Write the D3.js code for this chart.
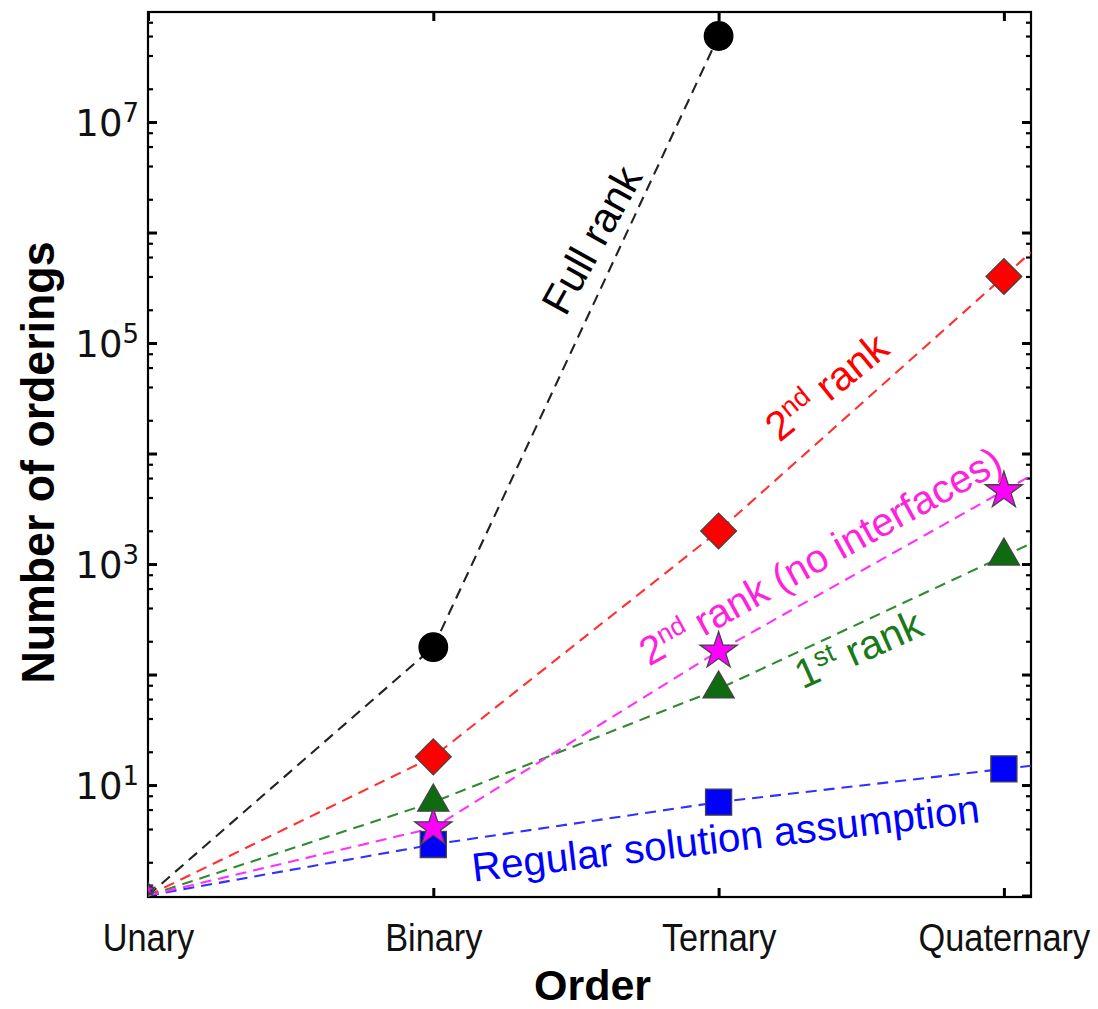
<!DOCTYPE html>
<html>
<head>
<meta charset="utf-8">
<script src="https://cdn.jsdelivr.net/npm/d3@7"></script>
<style>
  body { margin: 0; background: #fff; }
  svg { display: block; }
</style>
</head>
<body>
<svg id="chart" width="1098" height="1009"></svg>
<script>
// categories along the x axis
const orders = ["Unary", "Binary", "Ternary", "Quaternary"];

// number of orderings (null = no point)
const fullRank      = [1, 177, 6.0e7, null];
const secondRank    = [1, 18, 1990, 4.0e5];
const secondRankNoI = [1, 4.1, 163, 4600];
const firstRank     = [1, 7, 74, 1180];
const regularSol    = [1, 2.9, 7, 14];

const yTickPowers = [1, 3, 5, 7];

const series = [
  { name: "full",  values: fullRank,      line: "#222", fill: "#000",    shape: "circle",   extend: false },
  { name: "2nd",   values: secondRank,    line: "#ff3030", fill: "#ff0000", shape: "diamond", extend: true },
  { name: "1st",   values: firstRank,     line: "#2e8b2e", fill: "#0f6b0f", shape: "triangle", extend: true },
  { name: "reg",   values: regularSol,    line: "#3030ff", fill: "#0000ff", shape: "square",  extend: true },
  { name: "2ndNI", values: secondRankNoI, line: "#ff30ff", fill: "#ff00ff", shape: "star",    extend: true }
];

// rotated labels: baseline middle in data units, angle in degrees
const labels = [
  { x: 1.60, y: 7.4e5, angle: -61,  size: 42, color: "#000", parts: [["Full rank"]] },
  { x: 2.41, y: 3.2e4, angle: -39,  size: 41, color: "#ff0000", parts: [["2"], ["nd", true], [" rank"]] },
  { x: 2.38, y: 920,   angle: -29,  size: 40, color: "#ff22dd", parts: [["2"], ["nd", true], [" rank (no interfaces)"]] },
  { x: 2.51, y: 130,   angle: -24,  size: 41, color: "#1a7a1a", parts: [["1"], ["st", true], [" rank"]] },
  { x: 2.03, y: 2.48,  angle: -6.7, size: 40.5, color: "#0000ff", parts: [["Regular solution assumption"]] }
];

const svg = d3.select("#chart");
const margin = { left: 148, right: 67, top: 12, bottom: 112 };
const W = 1098, H = 1009;
const x0 = margin.left, x1 = W - margin.right, y0 = H - margin.bottom, y1 = margin.top;

const x = d3.scaleLinear().domain([0, 3.095]).range([x0, x1]);
const y = d3.scaleLog().domain([0.97, 9.9e7]).range([y0, y1]);

svg.append("defs").append("clipPath").attr("id", "plot")
  .append("rect").attr("x", x0).attr("y", y1).attr("width", x1 - x0).attr("height", y0 - y1);

// ticks
const decades = d3.range(0, 8).map(p => Math.pow(10, p));
const minors = [];
d3.range(0, 8).forEach(p => [2, 4, 6, 8].forEach(m => {
  const v = m * Math.pow(10, p);
  if (v < y.domain()[1]) minors.push(v);
}));

const styleAxis = g => {
  g.select(".domain").remove();
  g.selectAll(".tick line").attr("stroke", "#000");
};

svg.append("g").attr("transform", `translate(${x0},0)`)
  .call(d3.axisLeft(y).tickValues(minors).tickSize(-5).tickFormat(""))
  .call(styleAxis).selectAll(".tick line").attr("stroke-width", 2.2);
svg.append("g").attr("transform", `translate(${x1},0)`)
  .call(d3.axisRight(y).tickValues(minors).tickSize(-5).tickFormat(""))
  .call(styleAxis).selectAll(".tick line").attr("stroke-width", 2.2);
svg.append("g").attr("transform", `translate(${x1},0)`)
  .call(d3.axisRight(y).tickValues(decades).tickSize(-9).tickFormat(""))
  .call(styleAxis).selectAll(".tick line").attr("stroke-width", 3);

const yAxis = svg.append("g").attr("transform", `translate(${x0},0)`)
  .call(d3.axisLeft(y).tickValues(decades).tickSize(-9).tickFormat(""))
  .call(styleAxis);
yAxis.selectAll(".tick line").attr("stroke-width", 3);
yAxis.selectAll(".tick").filter(d => yTickPowers.includes(Math.round(Math.log10(d))))
  .append("text")
  .attr("x", -9).attr("dy", "0.36em")
  .attr("text-anchor", "end")
  .attr("fill", "#111")
  .style("font-family", "'DejaVu Sans', sans-serif")
  .style("font-size", "37px")
  .each(function(d) {
    const t = d3.select(this);
    t.append("tspan").text("10");
    t.append("tspan").attr("dy", "-0.55em").style("font-size", "26px").text(Math.round(Math.log10(d)));
  });

const xAxis = svg.append("g").attr("transform", `translate(0,${y0})`)
  .call(d3.axisBottom(x).tickValues(d3.range(orders.length)).tickSize(-9).tickPadding(0)
    .tickFormat(i => orders[i]))
  .call(styleAxis);
xAxis.selectAll(".tick line").attr("stroke-width", 3);
xAxis.selectAll(".tick text")
  .attr("y", 54).attr("dy", 0)
  .attr("transform", "scale(0.88,1)")
  .attr("fill", "#111")
  .style("font-family", "'Liberation Sans', Arial, sans-serif")
  .style("font-size", "39px");

svg.append("g").attr("transform", `translate(0,${y1})`)
  .call(d3.axisTop(x).tickValues(d3.range(orders.length)).tickSize(-9).tickFormat(""))
  .call(styleAxis).selectAll(".tick line").attr("stroke-width", 3);

// frame
svg.append("rect").attr("x", x0).attr("y", y1).attr("width", x1 - x0).attr("height", y0 - y1)
  .attr("fill", "none").attr("stroke", "#000").attr("stroke-width", 2.2);

// dashed lines (extended to the right edge along the last segment)
const plot = svg.append("g").attr("clip-path", "url(#plot)");
const line = d3.line().x(d => x(d[0])).y(d => y(d[1]));

series.forEach(s => {
  const pts = s.values.map((v, i) => [i, v]).filter(d => d[1] != null);
  if (s.extend) {
    const a = pts[pts.length - 2], b = pts[pts.length - 1];
    const slope = (Math.log10(b[1]) - Math.log10(a[1])) / (b[0] - a[0]);
    const xe = x.domain()[1] + 0.05;
    pts.push([xe, Math.pow(10, Math.log10(b[1]) + slope * (xe - b[0]))]);
  }
  plot.append("path").datum(pts)
    .attr("d", line)
    .attr("fill", "none")
    .attr("stroke", s.line)
    .attr("stroke-width", 2.1)
    .attr("stroke-dasharray", "11,7");
});

// markers
const shapes = {
  circle:   { type: d3.symbolCircle,   size: 640 },
  diamond:  { type: d3.symbolSquare,   size: 640, rotate: 45 },
  triangle: { type: d3.symbolTriangle, size: 420 },
  square:   { type: d3.symbolSquare,   size: 680 },
  star:     { type: d3.symbolStar,     size: 430 }
};

const markers = svg.append("g").attr("clip-path", "url(#plot)");
series.forEach(s => {
  const sh = shapes[s.shape];
  s.values.forEach((v, i) => {
    if (v == null) return;
    const scale = i === 0 ? 0.35 : 1;
    markers.append("path")
      .attr("d", d3.symbol().type(sh.type).size(sh.size * scale * scale)())
      .attr("transform", `translate(${x(i)},${y(v) - (i === 0 ? 6 : 0)}) rotate(${sh.rotate || 0})`)
      .attr("fill", s.fill)
      .attr("stroke", s.shape === "circle" ? "#000" : "#444")
      .attr("stroke-width", 1.3);
  });
});

// rotated annotations
labels.forEach(l => {
  const t = svg.append("text")
    .attr("transform", `translate(${x(l.x)},${y(l.y)}) rotate(${l.angle})`)
    .attr("text-anchor", "middle")
    .attr("fill", l.color)
    .style("font-family", "'Liberation Sans', Arial, sans-serif")
    .style("font-size", l.size + "px");
  let up = false;
  l.parts.forEach(p => {
    const sp = t.append("tspan").text(p[0]);
    if (p[1]) { sp.attr("dy", "-0.5em").style("font-size", Math.round(l.size * 0.66) + "px"); up = true; }
    else if (up) { sp.attr("dy", (0.5 * l.size * 0.66) + "px"); up = false; }
  });
});

// axis titles
svg.append("text")
  .attr("transform", `translate(${(x0 + x1) / 2 + 3},${H - 9})`)
  .attr("text-anchor", "middle")
  .style("font-family", "'Liberation Sans', Arial, sans-serif")
  .style("font-size", "43px").style("font-weight", "bold")
  .text("Order");

svg.append("text")
  .attr("transform", `translate(54,${(y0 + y1) / 2 + 8}) rotate(-90)`)
  .attr("text-anchor", "middle")
  .style("font-family", "'Liberation Sans Narrow', 'Liberation Sans', Arial, sans-serif")
  .style("font-size", "46px").style("font-weight", "bold")
  .attr("textLength", 442).attr("lengthAdjust", "spacingAndGlyphs")
  .text("Number of orderings");
</script>
</body>
</html>
